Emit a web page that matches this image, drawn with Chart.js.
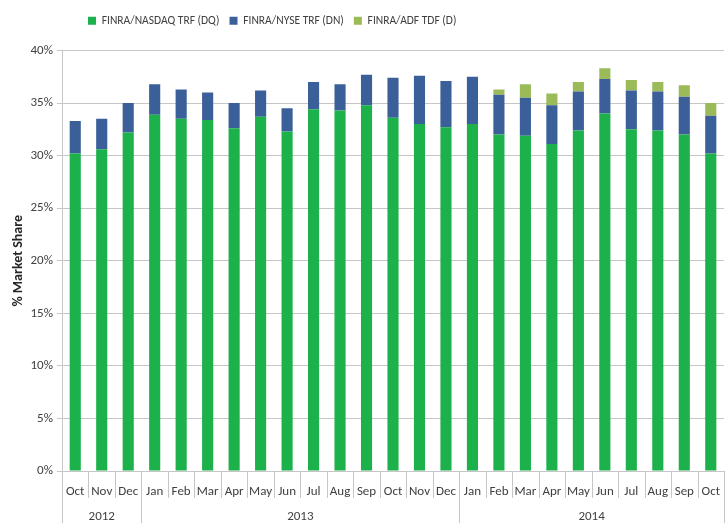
<!DOCTYPE html>
<html>
<head>
<meta charset="utf-8">
<script src="https://cdn.jsdelivr.net/npm/chart.js@4"></script>
<style>
  html, body { margin: 0; padding: 0; background: #fff; }
  #wrap { width: 725px; height: 523px; }
</style>
</head>
<body>
<div id="wrap"><canvas id="chart" width="725" height="523"></canvas></div>
<script>
// months Oct 2012 .. Oct 2014
const months = ['Oct', 'Nov', 'Dec',
  'Jan', 'Feb', 'Mar', 'Apr', 'May', 'Jun', 'Jul', 'Aug', 'Sep', 'Oct', 'Nov', 'Dec',
  'Jan', 'Feb', 'Mar', 'Apr', 'May', 'Jun', 'Jul', 'Aug', 'Sep', 'Oct'];
const years = ['2012', '2013', '2014'];
const yearStarts = [0, 3, 15];

// % market share
const nasdaqDQ = [30.2, 30.6, 32.2, 33.9, 33.5, 33.4, 32.6, 33.7, 32.3, 34.4, 34.3, 34.8,
  33.6, 33.0, 32.7, 33.0, 32.0, 31.9, 31.1, 32.4, 34.0, 32.5, 32.4, 32.0, 30.2];
const nyseDN = [3.1, 2.9, 2.8, 2.9, 2.8, 2.6, 2.4, 2.5, 2.2, 2.6, 2.5, 2.9,
  3.8, 4.6, 4.4, 4.5, 3.8, 3.6, 3.7, 3.7, 3.3, 3.7, 3.7, 3.6, 3.6];
const adfD = [0, 0, 0, 0, 0, 0, 0, 0, 0, 0, 0, 0,
  0, 0, 0, 0, 0.5, 1.3, 1.1, 0.9, 1.0, 1.0, 0.9, 1.1, 1.2];

const yTicks = [0, 5, 10, 15, 20, 25, 30, 35, 40];

const FONT = "Carlito, 'Liberation Sans', sans-serif";
const GRID = '#c6c6c6';
const LEG_PAD = 10;

// month separators + year groups under the axis, and legend placement
const groupAxis = {
  id: 'groupAxis',
  beforeDraw(chart) {
    // legend sits left of centre in the original
    chart.legend.left = 88 - LEG_PAD;
    chart.legend.top = 15 - LEG_PAD;
  },
  afterDraw(chart) {
    const { ctx, chartArea, scales } = chart;
    const x = scales.x;
    const half = (x.getPixelForValue(1) - x.getPixelForValue(0)) / 2;
    const bottom = chartArea.bottom;
    ctx.save();
    ctx.strokeStyle = GRID;
    ctx.lineWidth = 1;
    for (let i = 0; i <= months.length; i++) {
      const px = Math.round(x.getPixelForValue(i) - half) + 0.5;
      const isYear = i === 0 || i === months.length || yearStarts.includes(i);
      ctx.beginPath();
      ctx.moveTo(px, bottom);
      ctx.lineTo(px, isYear ? chart.height : bottom + 27);
      ctx.stroke();
    }
    ctx.fillStyle = '#404040';
    ctx.font = '13px ' + FONT;
    ctx.textAlign = 'center';
    ctx.textBaseline = 'middle';
    years.forEach((yr, k) => {
      const a = yearStarts[k];
      const b = k + 1 < yearStarts.length ? yearStarts[k + 1] - 1 : months.length - 1;
      const cx = (x.getPixelForValue(a) + x.getPixelForValue(b)) / 2;
      ctx.fillText(yr, cx, bottom + 46);
    });
    ctx.restore();
  }
};

new Chart(document.getElementById('chart').getContext('2d'), {
  type: 'bar',
  data: {
    labels: months,
    datasets: [
      { label: 'FINRA/NASDAQ TRF (DQ)', data: nasdaqDQ, backgroundColor: '#1db14b' },
      { label: 'FINRA/NYSE TRF (DN)', data: nyseDN, backgroundColor: '#3a5f99' },
      { label: 'FINRA/ADF TDF (D)', data: adfD, backgroundColor: '#9bbb59' }
    ]
  },
  options: {
    responsive: false,
    animation: false,
    devicePixelRatio: 1,
    layout: { padding: { top: 19, left: 0, right: -4, bottom: 0 } },
    datasets: { bar: { barPercentage: 0.42, categoryPercentage: 1 } },
    plugins: {
      legend: {
        position: 'top',
        align: 'start',
        labels: {
          boxWidth: 8, boxHeight: 8, padding: LEG_PAD,
          color: '#404040',
          font: { family: FONT, size: 11.5 }
        }
      },
      tooltip: { enabled: false }
    },
    scales: {
      x: {
        stacked: true,
        offset: true,
        grid: { display: false },
        border: { display: false },
        ticks: { color: '#404040', font: { family: FONT, size: 13 }, padding: 5, maxRotation: 0, autoSkip: false },
        afterFit(s) { s.height = 52; }
      },
      y: {
        stacked: true,
        min: 0, max: 40,
        afterBuildTicks(s) { s.ticks = yTicks.map(v => ({ value: v })); },
        grid: { color: GRID, tickLength: 5 },
        border: { color: GRID },
        ticks: { color: '#404040', font: { family: FONT, size: 13 }, padding: 4, callback: v => v + '%' },
        title: { display: true, text: '% Market Share', color: '#262626', font: { family: FONT, size: 14, weight: 'bold' }, padding: { top: 10, bottom: 0 } },
        afterFit(s) { s.width = 62; }
      }
    }
  },
  plugins: [groupAxis]
});
</script>
</body>
</html>
